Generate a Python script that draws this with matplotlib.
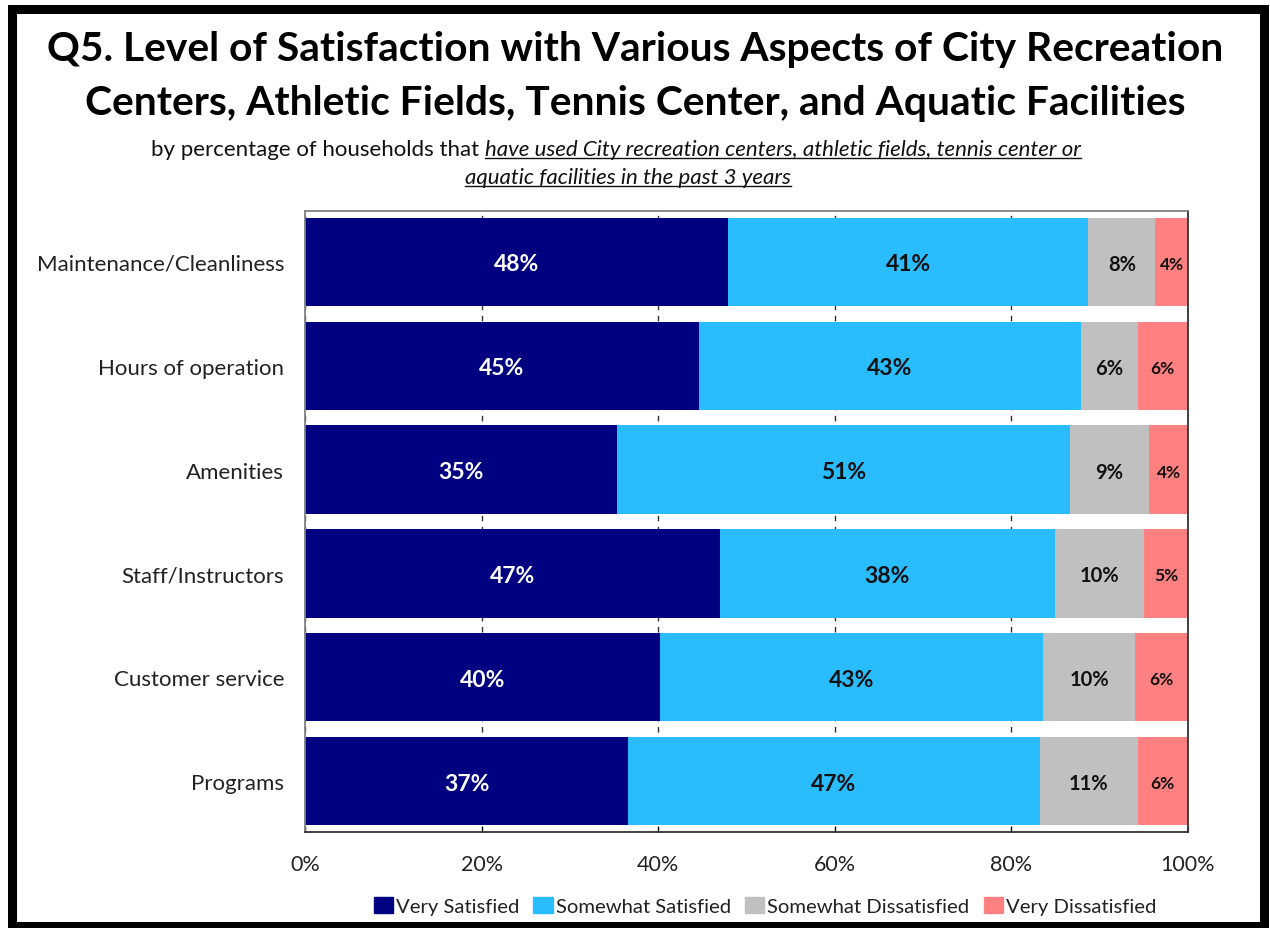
import matplotlib
matplotlib.use('Agg')
import matplotlib.pyplot as plt
from matplotlib.patches import Rectangle
from matplotlib.lines import Line2D
import numpy as np

plt.rcParams['font.family'] = ['Lato', 'DejaVu Sans']

# survey results, percent of households (rows sum to 100)
aspects = ['Maintenance/Cleanliness', 'Hours of operation', 'Amenities',
           'Staff/Instructors', 'Customer service', 'Programs']
very_sat = [47.9, 44.6, 35.3, 47.0, 40.2, 36.6]
somewhat_sat = [40.8, 43.3, 51.3, 37.9, 43.4, 46.6]
somewhat_dis = [7.6, 6.4, 9.0, 10.1, 10.4, 11.1]
very_dis = [3.7, 5.7, 4.4, 5.0, 6.0, 5.7]

series_names = ['Very Satisfied', 'Somewhat Satisfied',
                'Somewhat Dissatisfied', 'Very Dissatisfied']
colors = ['#000080', '#29BCFF', '#C0C0C0', '#FF8080']
label_colors = ['white', '#111111', '#111111', '#111111']
label_sizes = [16.5, 16.5, 14.5, 12.5]
x_ticks = [0, 20, 40, 60, 80, 100]

W, H = 1270, 929
fig = plt.figure(figsize=(W / 100, H / 100), dpi=100)

# outer frame
fig.patches.append(Rectangle((11.5 / W, 2.5 / H), 1252 / W, 917 / H,
                             transform=fig.transFigure, fill=False,
                             edgecolor='black', linewidth=6.5))

ax = fig.add_axes([305 / W, 1 - 833 / H, 883 / W, 621 / H])

ypos = np.arange(len(aspects))
left = np.zeros(len(aspects))
all_series = [very_sat, somewhat_sat, somewhat_dis, very_dis]
for vals, col, lc, fs in zip(all_series, colors, label_colors, label_sizes):
    vals = np.array(vals)
    ax.barh(ypos, vals, left=left, height=0.85, color=col, zorder=2)
    for y, l, v in zip(ypos, left, vals):
        ax.text(l + v / 2, y + 0.02, f'{v:.0f}%', ha='center', va='center',
                color=lc, fontsize=fs, fontweight='bold', zorder=3)
    left += vals

ax.set_xlim(0, 100)
ax.set_ylim(len(aspects) - 0.51, -0.49)
ax.set_xticks(x_ticks)
ax.set_xticklabels([f'{t}%' for t in x_ticks])
ax.set_yticks(ypos)
ax.set_yticklabels(aspects)
ax.tick_params(axis='x', direction='in', length=4, labelsize=15.5,
               labelcolor='#222222', pad=16)
ax.tick_params(axis='y', length=0, labelsize=16, labelcolor='#222222', pad=15)
ax.grid(axis='x', linestyle=(0, (4, 4)), color='#333333', linewidth=1, zorder=0)
for s in ['top', 'left']:
    ax.spines[s].set_color('#808080')
for s in ['bottom', 'right']:
    ax.spines[s].set_color('#333333')
for s in ax.spines.values():
    s.set_linewidth(1.3)

# title
fig.text(0.5, 1 - 50 / H, 'Q5. Level of Satisfaction with Various Aspects of City Recreation',
         ha='center', va='center', fontsize=29.3, fontweight='bold')
fig.text(0.5, 1 - 104 / H, 'Centers, Athletic Fields, Tennis Center, and Aquatic Facilities',
         ha='center', va='center', fontsize=29.3, fontweight='bold')

# subtitle with underlined italic part
fig.canvas.draw()
r = fig.canvas.get_renderer()
sub_fs = 16
plain = 'by percentage of households that '
ital1 = 'have used City recreation centers, athletic fields, tennis center or'
ital2 = 'aquatic facilities in the past 3 years'
y1 = 1 - 150 / H
y2 = 1 - 178 / H
t_plain = fig.text(0, y1, plain, fontsize=sub_fs, va='center', color='#111111')
t_i1 = fig.text(0, y1, ital1, fontsize=sub_fs, va='center', style='italic', color='#111111')
wp = t_plain.get_window_extent(r).width
wi = t_i1.get_window_extent(r).width
x0 = 616 - (wp + wi) / 2
t_plain.set_x(x0 / W)
t_i1.set_x((x0 + wp) / W)
t_i2 = fig.text(628 / W, y2, ital2, fontsize=sub_fs, va='center', ha='center',
                style='italic', color='#111111')
fig.canvas.draw()
for t in [t_i1, t_i2]:
    bb = t.get_window_extent(r)
    yl = (bb.y0 + 1) / H
    fig.lines.append(Line2D([bb.x0 / W, bb.x1 / W], [yl, yl],
                            transform=fig.transFigure, color='#111111', linewidth=1))

handles = [Rectangle((0, 0), 1, 1, color=c) for c in colors]
fig.legend(handles, series_names, loc='center', bbox_to_anchor=(765 / W, 1 - 907 / H),
           ncol=4, frameon=False, fontsize=14.6, handlelength=0.95, handleheight=0.85,
           handletextpad=0.15, columnspacing=0.7, labelcolor='#222222')

fig.savefig('out.png', dpi=100)
